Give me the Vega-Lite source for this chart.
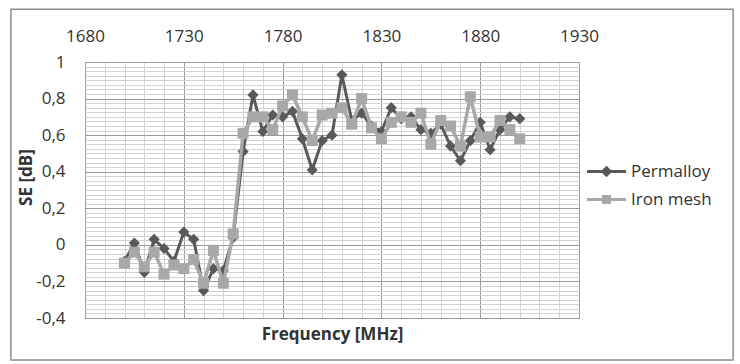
{
  "$schema": "https://vega.github.io/schema/vega-lite/v6.json",
  "width": 494,
  "height": 256,
  "autosize": "none",
  "padding": {"left": 85, "top": 62, "right": 161, "bottom": 46},
  "background": "white",
  "config": {"view": {"stroke": null}, "font": "Open Sans"},
  "resolve": {"axis": {"x": "independent"}},
  "data": {"values": [
    {"f": 1700, "Permalloy": -0.09, "Iron mesh": -0.10},
    {"f": 1705, "Permalloy": 0.01, "Iron mesh": -0.04},
    {"f": 1710, "Permalloy": -0.15, "Iron mesh": -0.12},
    {"f": 1715, "Permalloy": 0.03, "Iron mesh": -0.04},
    {"f": 1720, "Permalloy": -0.02, "Iron mesh": -0.16},
    {"f": 1725, "Permalloy": -0.09, "Iron mesh": -0.11},
    {"f": 1730, "Permalloy": 0.07, "Iron mesh": -0.13},
    {"f": 1735, "Permalloy": 0.03, "Iron mesh": -0.08},
    {"f": 1740, "Permalloy": -0.25, "Iron mesh": -0.21},
    {"f": 1745, "Permalloy": -0.13, "Iron mesh": -0.03},
    {"f": 1750, "Permalloy": -0.14, "Iron mesh": -0.21},
    {"f": 1755, "Permalloy": 0.04, "Iron mesh": 0.06},
    {"f": 1760, "Permalloy": 0.51, "Iron mesh": 0.61},
    {"f": 1765, "Permalloy": 0.82, "Iron mesh": 0.70},
    {"f": 1770, "Permalloy": 0.62, "Iron mesh": 0.70},
    {"f": 1775, "Permalloy": 0.71, "Iron mesh": 0.63},
    {"f": 1780, "Permalloy": 0.70, "Iron mesh": 0.76},
    {"f": 1785, "Permalloy": 0.73, "Iron mesh": 0.82},
    {"f": 1790, "Permalloy": 0.58, "Iron mesh": 0.70},
    {"f": 1795, "Permalloy": 0.41, "Iron mesh": 0.57},
    {"f": 1800, "Permalloy": 0.57, "Iron mesh": 0.71},
    {"f": 1805, "Permalloy": 0.60, "Iron mesh": 0.72},
    {"f": 1810, "Permalloy": 0.93, "Iron mesh": 0.75},
    {"f": 1815, "Permalloy": 0.68, "Iron mesh": 0.66},
    {"f": 1820, "Permalloy": 0.72, "Iron mesh": 0.80},
    {"f": 1825, "Permalloy": 0.65, "Iron mesh": 0.64},
    {"f": 1830, "Permalloy": 0.62, "Iron mesh": 0.58},
    {"f": 1835, "Permalloy": 0.75, "Iron mesh": 0.67},
    {"f": 1840, "Permalloy": 0.69, "Iron mesh": 0.70},
    {"f": 1845, "Permalloy": 0.70, "Iron mesh": 0.67},
    {"f": 1850, "Permalloy": 0.63, "Iron mesh": 0.72},
    {"f": 1855, "Permalloy": 0.61, "Iron mesh": 0.55},
    {"f": 1860, "Permalloy": 0.66, "Iron mesh": 0.68},
    {"f": 1865, "Permalloy": 0.54, "Iron mesh": 0.65},
    {"f": 1870, "Permalloy": 0.46, "Iron mesh": 0.54},
    {"f": 1875, "Permalloy": 0.57, "Iron mesh": 0.81},
    {"f": 1880, "Permalloy": 0.67, "Iron mesh": 0.59},
    {"f": 1885, "Permalloy": 0.52, "Iron mesh": 0.59},
    {"f": 1890, "Permalloy": 0.63, "Iron mesh": 0.68},
    {"f": 1895, "Permalloy": 0.70, "Iron mesh": 0.63},
    {"f": 1900, "Permalloy": 0.69, "Iron mesh": 0.58}
  ]},
  "transform": [{"fold": ["Permalloy", "Iron mesh"], "as": ["series", "v"]}],
  "layer": [
    {
      "transform": [{"filter": "datum.series == 'Permalloy'"}],
      "mark": {"type": "line", "strokeWidth": 3},
      "encoding": {
        "x": {"field": "f", "type": "quantitative",
          "scale": {"domain": [1680, 1930], "nice": false, "zero": false},
          "axis": {"orient": "top", "title": null, "format": "d", "tickCount": 1000,
            "values": [1680,1690,1700,1710,1720,1730,1740,1750,1760,1770,1780,1790,1800,1810,1820,1830,1840,1850,1860,1870,1880,1890,1900,1910,1920,1930],
            "labelExpr": "(datum.value - 1680) % 50 == 0 ? datum.label : ''",
            "grid": true,
            "gridColor": {"condition": {"test": "(datum.value - 1680) % 50 == 0", "value": "#9a9a9a"}, "value": "#d2d2d2"},
            "gridWidth": 1,
            "domain": false, "ticks": false, "tickSize": 0,
            "labelPadding": 17, "labelFontSize": 17, "labelColor": "#333333", "labelFont": "Open Sans",
            "labelOverlap": false, "labelFlush": false, "labelBound": false}},
        "y": {"field": "v", "type": "quantitative",
          "scale": {"domain": [-0.4, 1], "nice": false, "zero": false},
          "axis": {"title": "SE [dB]", "titleFontSize": 17, "titleFontWeight": "bold", "titleColor": "#333333", "titleFont": "Open Sans", "titlePadding": 0, "titleY": 115,
            "tickCount": 1000,
            "values": [-0.4,-0.375,-0.35,-0.325,-0.3,-0.275,-0.25,-0.225,-0.2,-0.175,-0.15,-0.125,-0.1,-0.075,-0.05,-0.025,0,0.025,0.05,0.075,0.1,0.125,0.15,0.175,0.2,0.225,0.25,0.275,0.3,0.325,0.35,0.375,0.4,0.425,0.45,0.475,0.5,0.525,0.55,0.575,0.6,0.625,0.65,0.675,0.7,0.725,0.75,0.775,0.8,0.825,0.85,0.875,0.9,0.925,0.95,0.975,1],
            "labelExpr": "abs(datum.value*5 - round(datum.value*5)) < 0.01 ? (datum.value < -0.001 ? '-' : '') + replace(format(abs(datum.value), '~g'), '.', ',') : ''",
            "grid": true,
            "gridColor": {"condition": {"test": "abs(datum.value*5 - round(datum.value*5)) < 0.01", "value": "#9a9a9a"}, "value": "#d2d2d2"},
            "gridWidth": 1,
            "domain": false, "ticks": false, "tickSize": 0,
            "labelPadding": 20, "labelFontSize": 17, "labelColor": "#333333", "labelFont": "Open Sans",
            "labelOverlap": false, "labelFlush": false, "labelBound": false}},
        "color": {"field": "series", "type": "nominal",
          "scale": {"domain": ["Permalloy", "Iron mesh"], "range": ["#595959", "#a8a8a8"]},
          "legend": {"title": null, "orient": "none", "legendX": 513, "legendY": 101, "padding": 0,
            "labelFontSize": 17, "labelFont": "Open Sans", "labelColor": "#333333",
            "symbolSize": 100, "symbolStrokeWidth": 3, "labelOffset": 16, "rowPadding": 8,
            "encode": {"symbols": {"update": {
              "shape": {"signal": "datum.value == 'Permalloy' ? 'M-3.9,0H3.9M0,-0.75L0.75,0L0,0.75L-0.75,0Z' : 'M-3.9,0H3.9M-0.6,-0.6H0.6V0.6H-0.6Z'"},
              "fill": {"signal": "scale('color', datum.value)"},
              "stroke": {"signal": "scale('color', datum.value)"},
              "strokeWidth": {"value": 3},
              "opacity": {"value": 1}}}}}}
      }
    },
    {
      "transform": [{"filter": "datum.series == 'Permalloy'"}],
      "mark": {"type": "point", "filled": true, "shape": "diamond", "size": 125, "opacity": 1},
      "encoding": {
        "x": {"field": "f", "type": "quantitative", "scale": {"domain": [1680, 1930], "nice": false, "zero": false}, "axis": null},
        "y": {"field": "v", "type": "quantitative", "scale": {"domain": [-0.4, 1], "nice": false, "zero": false}},
        "color": {"field": "series", "type": "nominal"}
      }
    },
    {
      "transform": [{"filter": "datum.series == 'Iron mesh'"}],
      "mark": {"type": "line", "strokeWidth": 3.5},
      "encoding": {
        "x": {"field": "f", "type": "quantitative", "scale": {"domain": [1680, 1930], "nice": false, "zero": false}, "axis": null},
        "y": {"field": "v", "type": "quantitative", "scale": {"domain": [-0.4, 1], "nice": false, "zero": false}},
        "color": {"field": "series", "type": "nominal"}
      }
    },
    {
      "transform": [{"filter": "datum.series == 'Iron mesh'"}],
      "mark": {"type": "point", "filled": true, "shape": "square", "size": 121, "opacity": 1},
      "encoding": {
        "x": {"field": "f", "type": "quantitative", "scale": {"domain": [1680, 1930], "nice": false, "zero": false}, "axis": null},
        "y": {"field": "v", "type": "quantitative", "scale": {"domain": [-0.4, 1], "nice": false, "zero": false}},
        "color": {"field": "series", "type": "nominal"}
      }
    },
    {
      "data": {"values": [{}]},
      "mark": {"type": "rect", "fill": null, "stroke": "#8c8c8c", "strokeWidth": 1.5, "clip": false},
      "encoding": {
        "x": {"datum": 1642.5, "type": "quantitative", "scale": {"domain": [1680, 1930], "nice": false, "zero": false},
          "axis": {"orient": "bottom", "title": "Frequency [MHz]", "labels": false, "ticks": false, "domain": false, "grid": false,
            "titleFontSize": 17, "titleFontWeight": "bold", "titleColor": "#333333", "titleFont": "Open Sans", "titlePadding": 8}},
        "x2": {"datum": 2008},
        "y": {"datum": 1.289, "type": "quantitative", "scale": {"domain": [-0.4, 1], "nice": false, "zero": false}},
        "y2": {"datum": -0.63}
      }
    }
  ]
}
